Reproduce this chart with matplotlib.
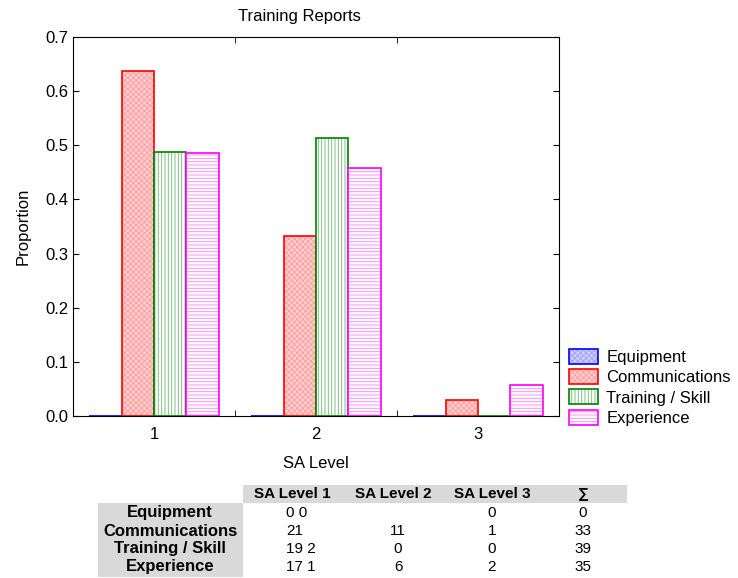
import numpy as np
import matplotlib.pyplot as plt
from matplotlib.patches import Rectangle, Patch
from matplotlib.legend_handler import HandlerTuple

plt.rcParams['font.family'] = ['Liberation Sans', 'DejaVu Sans']
plt.rcParams['hatch.linewidth'] = 0.7

levels = [1, 2, 3]
categories = ['Equipment', 'Communications', 'Training / Skill', 'Experience']
proportions = {
    'Equipment': [0.0, 0.0, 0.0],
    'Communications': [21/33, 11/33, 1/33],
    'Training / Skill': [19/39, 20/39, 0.0],
    'Experience': [17/35, 16/35, 2/35],
}
col_headers = ['SA Level 1', 'SA Level 2', 'SA Level 3', '\u2211']
table_cells = [
    ['0 0', '', '0', '0'],
    ['21', '11', '1', '33'],
    ['19 2', '0', '0', '39'],
    ['17 1', '6', '2', '35'],
]

# edge, fill, hatch colour, hatch pattern
styles = {
    'Equipment': ('#0000ff', '#d0d0ff', '#a0a0ff', 'xxxxxx'),
    'Communications': ('#ff0000', '#ffd0d0', '#ffa0a0', 'xxxxxx'),
    'Training / Skill': ('#008000', 'white', '#80c080', '|||||'),
    'Experience': ('#ff00ff', 'white', '#ff90ff', '-----'),
}

W, H = 738, 578
fig = plt.figure(figsize=(W/100, H/100), dpi=100)
ax = fig.add_axes([73/W, 1-416/H, (559-73)/W, (416-37)/H])

x = np.array(levels, dtype=float)
bw = 0.2
handles = []
for i, cat in enumerate(categories):
    ec, fc, hc, hatch = styles[cat]
    pos = x + (i - 1.5) * bw
    ax.bar(pos, proportions[cat], bw, facecolor=fc, edgecolor=hc, hatch=hatch, linewidth=0)
    ax.bar(pos, proportions[cat], bw, fill=False, edgecolor=ec, linewidth=1.2)
    handles.append((Patch(facecolor=fc, edgecolor=hc, hatch=hatch, linewidth=0),
                    Patch(fill=False, edgecolor=ec, linewidth=1.2)))

ax.set_xlim(0.5, 3.5)
ax.set_ylim(0, 0.7)
ax.set_yticks(np.arange(0, 0.71, 0.1))
ax.set_yticklabels(['%.1f' % v for v in np.arange(0, 0.71, 0.1)], fontsize=12)
ax.set_xticks(levels)
ax.set_xticklabels([str(l) for l in levels], fontsize=12)
ax.tick_params(axis='x', which='major', length=0, pad=8)
ax.set_xticks([1.5, 2.5], minor=True)
ax.tick_params(axis='x', which='minor', direction='in', top=True, length=4)
ax.tick_params(axis='y', direction='in', right=True, length=4)
ax.set_ylabel('Proportion', fontsize=12, labelpad=10)
ax.set_xlabel('SA Level', fontsize=12, labelpad=10)
fig.text(299/W, 1-16/H, 'Training Reports', ha='center', va='center', fontsize=12)

fig.legend(handles, categories, loc='upper left', bbox_to_anchor=(562/W, 1-342/H),
           frameon=False, fontsize=12, handlelength=1.75, handleheight=1.0,
           labelspacing=0.25, handletextpad=0.5, borderaxespad=0,
           handler_map={tuple: HandlerTuple(ndivide=1, pad=0)})

# table below
gray = '#d9d9d9'
fig.patches.append(Rectangle((243/W, 1-503/H), (627-243)/W, 18/H,
                             transform=fig.transFigure, facecolor=gray, edgecolor='none'))
fig.patches.append(Rectangle((98/W, 1-577/H), (243-98)/W, 74/H,
                             transform=fig.transFigure, facecolor=gray, edgecolor='none'))
col_x = [292, 393, 492, 583]
row_y = [513, 531, 549, 567]
for cx, h in zip(col_x, col_headers):
    fig.text(cx/W, 1-494/H, h, ha='center', va='center', fontsize=11, fontweight='bold')
for ry, cat, row in zip(row_y, categories, table_cells):
    fig.text(170/W, 1-ry/H, cat, ha='center', va='center', fontsize=12, fontweight='bold')
    fig.text(286/W, 1-ry/H, row[0], ha='left', va='center', fontsize=11)
    for cx, v in zip([398, 492, 583], row[1:]):
        fig.text(cx/W, 1-ry/H, v, ha='center', va='center', fontsize=11)

fig.savefig('out.png', dpi=100)
